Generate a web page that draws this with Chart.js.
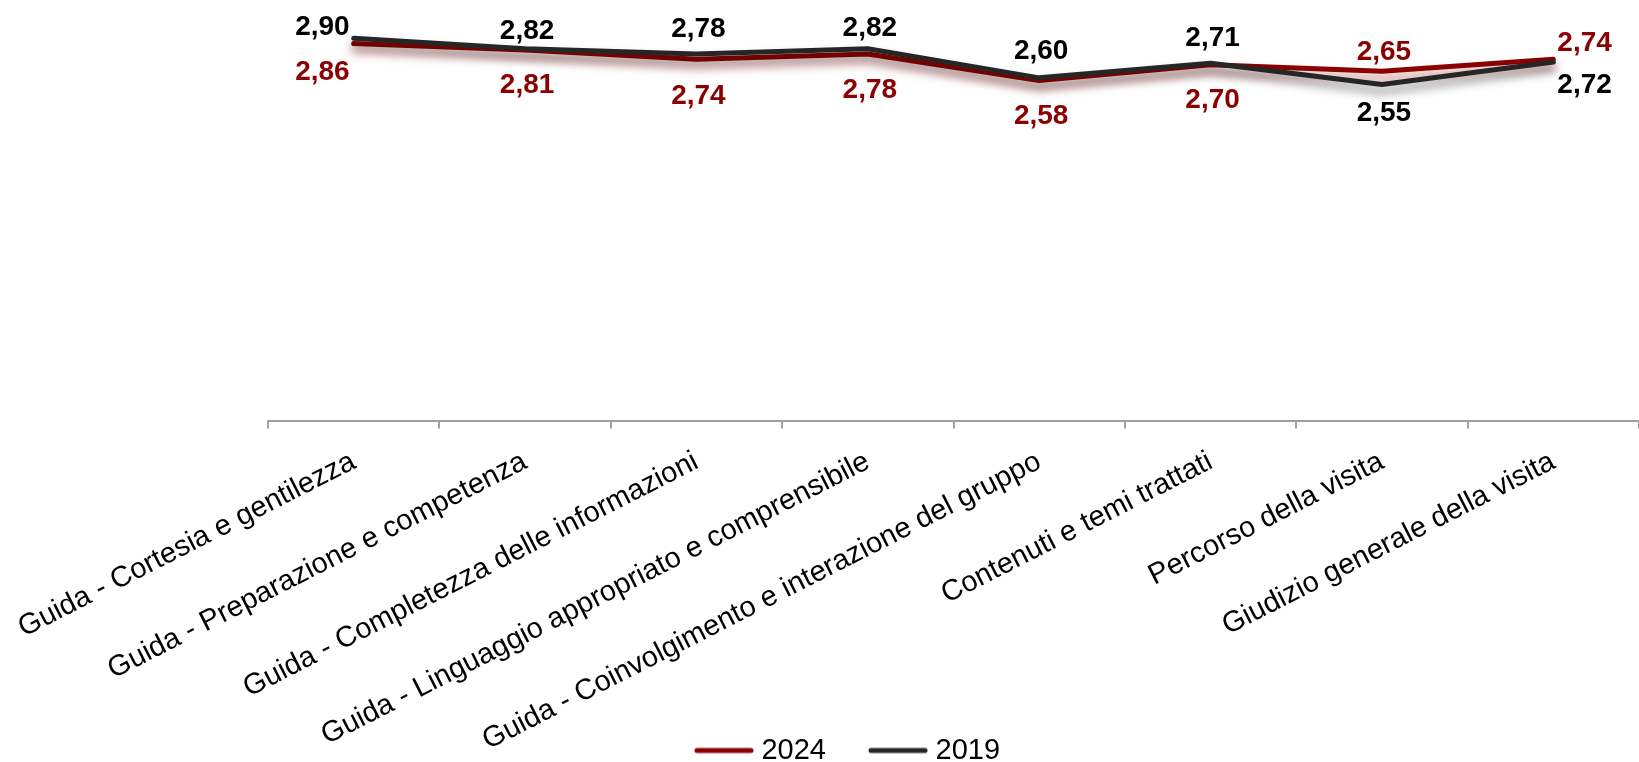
<!DOCTYPE html>
<html>
<head>
<meta charset="utf-8">
<script src="https://cdn.jsdelivr.net/npm/chart.js@4"></script>
<style>
  html, body { margin: 0; padding: 0; background: #fff; overflow: hidden; }
  #wrap { width: 1639px; height: 775px; }
</style>
</head>
<body>
<div id="wrap"><canvas id="myChart"></canvas></div>
<script>
// categorie e valori
const categories = [
  "Guida - Cortesia e gentilezza",
  "Guida - Preparazione e competenza",
  "Guida - Completezza delle informazioni",
  "Guida - Linguaggio appropriato e comprensibile",
  "Guida - Coinvolgimento e interazione del gruppo",
  "Contenuti e temi trattati",
  "Percorso della visita",
  "Giudizio generale della visita"
];
const values2024 = [2.86, 2.81, 2.74, 2.78, 2.58, 2.70, 2.65, 2.74];
const values2019 = [2.90, 2.82, 2.78, 2.82, 2.60, 2.71, 2.55, 2.72];

// spostamento verticale delle etichette rispetto al punto (px)
const labelDy2024 = [29, 35, 37, 36, 36, 36, -19, -16];
const labelDy2019 = [-11, -18, -25, -21, -27, -25, 29, 23];

const RED = "#8B0000";
const DARK = "#262626";
const FONT = "'Liberation Sans', Arial, sans-serif";
const CUT = 87; // quanto le etichette ruotate invadono la zona della legenda

// simbolo della legenda: linea con estremi arrotondati
function legendLine(color) {
  const c = document.createElement("canvas");
  c.width = 60;
  c.height = 8;
  const g = c.getContext("2d");
  g.strokeStyle = color;
  g.lineWidth = 5;
  g.lineCap = "round";
  g.beginPath();
  g.moveTo(3, 4);
  g.lineTo(57, 4);
  g.stroke();
  return c;
}

// ombra sotto le linee
const shadowPlugin = {
  id: "lineShadow",
  beforeDatasetDraw(chart, args) {
    const ctx = chart.ctx;
    const ds = chart.data.datasets[args.index];
    ctx.save();
    ctx.shadowColor = ds.shadowColor;
    ctx.shadowBlur = 10;
    ctx.shadowOffsetX = 0;
    ctx.shadowOffsetY = 7;
  },
  afterDatasetDraw(chart) {
    chart.ctx.restore();
  }
};

// evita che le etichette dell'asse vengano tagliate
const unclipTicks = {
  id: "unclipTicks",
  afterLayout(chart) {
    chart.scales.x.bottom += CUT;
  }
};

// etichette dei valori
const valueLabels = {
  id: "valueLabels",
  afterDatasetsDraw(chart) {
    const ctx = chart.ctx;
    ctx.save();
    ctx.font = "bold 28px " + FONT;
    ctx.textBaseline = "middle";
    chart.data.datasets.forEach((ds, i) => {
      const meta = chart.getDatasetMeta(i);
      ctx.fillStyle = ds.labelColor;
      meta.data.forEach((pt, j) => {
        const txt = ds.data[j].toFixed(2).replace(".", ",");
        let x = pt.x;
        let y = pt.y + ds.labelDy[j];
        if (j === 0) {
          ctx.textAlign = "right";
          x -= 4;
        } else if (j === meta.data.length - 1) {
          ctx.textAlign = "left";
          x += 4;
        } else {
          ctx.textAlign = "center";
          x += 2;
        }
        ctx.fillText(txt, x, y);
      });
    });
    ctx.restore();
  }
};

const ctx = document.getElementById("myChart").getContext("2d");
new Chart(ctx, {
  type: "line",
  data: {
    labels: categories,
    datasets: [
      {
        label: "2024",
        data: values2024,
        borderColor: RED,
        backgroundColor: RED,
        borderWidth: 5,
        borderCapStyle: "round",
        borderJoinStyle: "round",
        pointRadius: 0,
        pointStyle: legendLine(RED),
        tension: 0,
        order: 2,
        shadowColor: "rgba(139,0,0,0.5)",
        labelColor: RED,
        labelDy: labelDy2024
      },
      {
        label: "2019",
        data: values2019,
        borderColor: DARK,
        backgroundColor: DARK,
        borderWidth: 5,
        borderCapStyle: "round",
        borderJoinStyle: "round",
        pointRadius: 0,
        pointStyle: legendLine(DARK),
        tension: 0,
        order: 1,
        shadowColor: "rgba(0,0,0,0.45)",
        labelColor: "#000",
        labelDy: labelDy2019
      }
    ]
  },
  options: {
    responsive: true,
    maintainAspectRatio: false,
    animation: false,
    layout: {
      padding: { top: 25, left: 62, right: 0, bottom: 0 }
    },
    plugins: {
      tooltip: { enabled: false },
      legend: {
        position: "bottom",
        labels: {
          usePointStyle: true,
          pointStyleWidth: 46,
          color: "#000",
          padding: 49,
          font: { family: FONT, size: 29 },
          sort: (a, b) => a.datasetIndex - b.datasetIndex
        }
      }
    },
    scales: {
      x: {
        offset: true,
        afterFit(scale) {
          scale.paddingLeft = 268;
          scale.paddingRight = 0;
          scale.height -= CUT;
        },
        grid: {
          offset: true,
          drawOnChartArea: false,
          drawTicks: true,
          tickLength: 7,
          color: "#a0a0a0",
          lineWidth: 2
        },
        border: { display: true, color: "#a0a0a0", width: 2 },
        ticks: {
          autoSkip: false,
          minRotation: 27,
          maxRotation: 27,
          padding: 16,
          color: "#000",
          font: { family: FONT, size: 29 }
        }
      },
      y: {
        display: false,
        min: 0,
        max: 3
      }
    }
  },
  plugins: [shadowPlugin, unclipTicks, valueLabels]
});
</script>
</body>
</html>
